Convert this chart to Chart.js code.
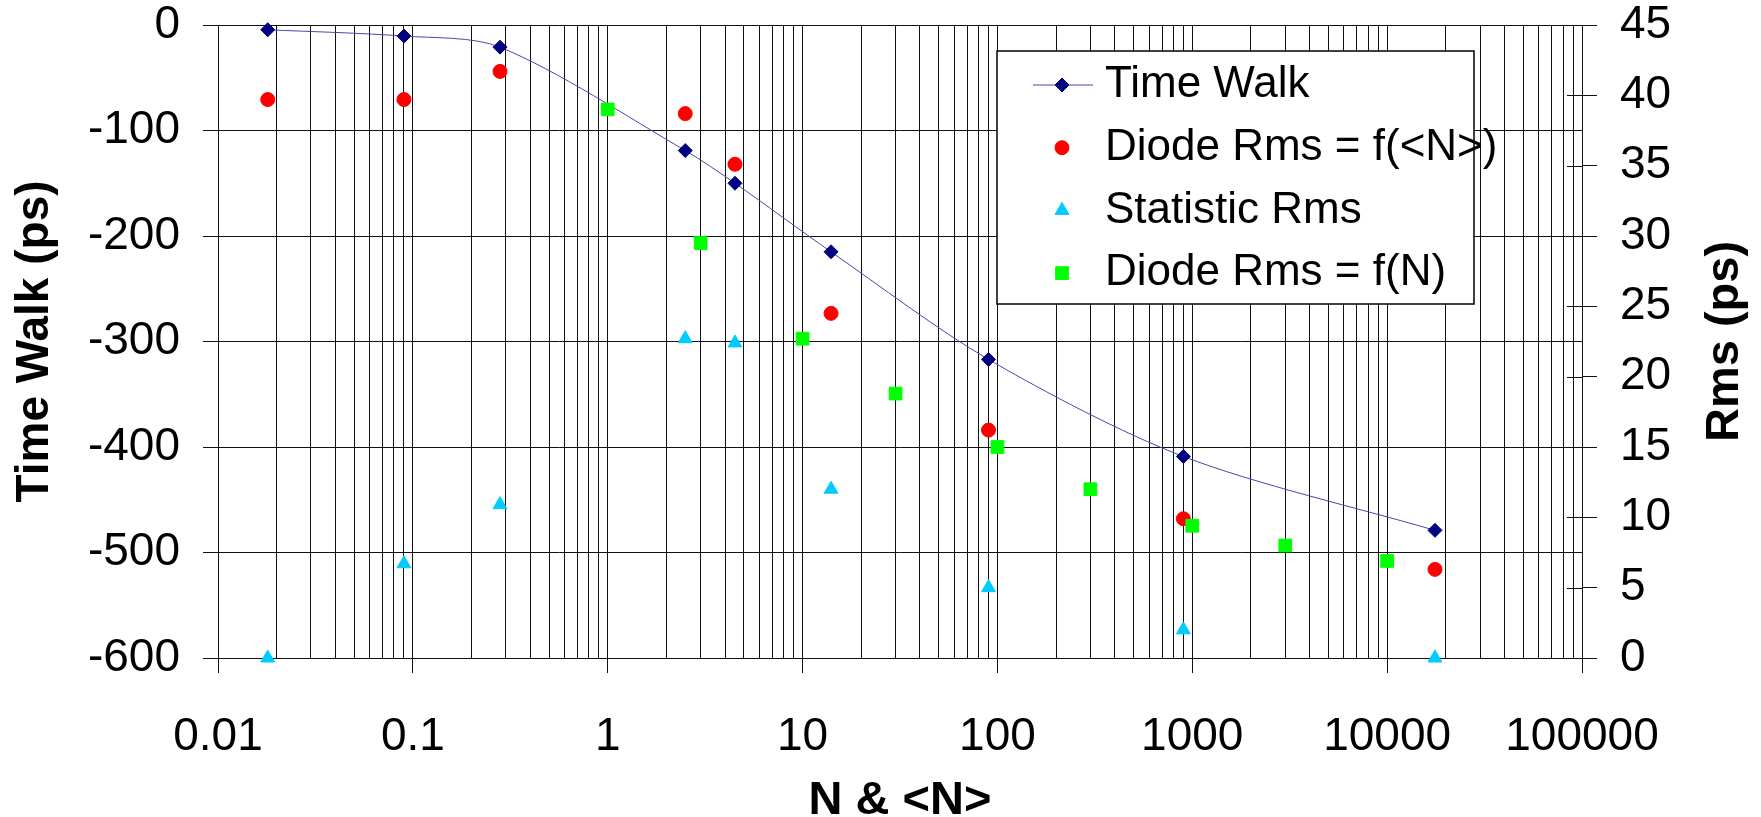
<!DOCTYPE html>
<html>
<head>
<meta charset="utf-8">
<script src="https://cdn.jsdelivr.net/npm/chart.js@4.4.1/dist/chart.umd.min.js"></script>
<style>
  html, body { margin: 0; padding: 0; background: #fff; }
  #wrap { width: 1761px; height: 817px; position: relative; }
</style>
</head>
<body>
<div id="wrap"><canvas id="chart"></canvas></div>
<script>
// <N> values (mean number) and the series measured at them
const nMean = [0.018, 0.09, 0.28, 2.5, 4.5, 14, 90, 900, 17600];
const timeWalk = [-4.5, -10.5, -21, -119, -150, -215, -317, -409, -479];
const diodeRmsMean = [39.7, 39.7, 41.7, 38.7, 35.1, 24.5, 16.2, 9.9, 6.3];
const statisticRms = [0, 6.7, 10.9, 22.7, 22.4, 12.0, 5.0, 2.0, 0];

// N values and the diode rms measured at them
const nValues = [1, 3, 10, 30, 100, 300, 1000, 3000, 10000];
const diodeRmsN = [39.0, 29.5, 22.7, 18.8, 15.0, 12.0, 9.4, 8.0, 6.9];

// axis ticks
const decades = [0.01, 0.1, 1, 10, 100, 1000, 10000, 100000];
const minorSteps = [1, 2, 3, 4, 5, 6, 7, 8, 9];

const FONT = '"Liberation Sans", Arial, sans-serif';
const GRID = '#111';

const pts = (xs, ys) => xs.map((x, i) => ({ x: x, y: ys[i] }));

// keep the y scales from pushing the plot area down
const fixY = w => scale => {
  scale.width = w;
  scale.paddingTop = 0;
  scale.paddingBottom = 0;
};

const boxLegend = {
  id: 'boxLegend',
  afterDraw(chart) {
    const ctx = chart.ctx;
    const area = chart.chartArea;
    ctx.save();

    // right axis ticks cross the axis line
    const r = chart.scales.y2;
    ctx.strokeStyle = GRID;
    ctx.lineWidth = 1;
    r.ticks.forEach(t => {
      const py = Math.round(r.getPixelForValue(t.value)) + 0.5;
      ctx.beginPath();
      ctx.moveTo(r.left - 15, py);
      ctx.lineTo(r.left, py);
      ctx.stroke();
    });

    // right axis title, reads bottom to top
    ctx.save();
    ctx.translate(chart.width - 36, (area.top + area.bottom) / 2);
    ctx.rotate(-Math.PI / 2);
    ctx.font = 'bold 47px ' + FONT;
    ctx.fillStyle = '#000';
    ctx.textAlign = 'center';
    ctx.textBaseline = 'middle';
    ctx.fillText('Rms (ps)', 0, 0);
    ctx.restore();

    // legend box
    const bx = 997, by = 51, bw = 477, bh = 253;
    ctx.fillStyle = '#fff';
    ctx.fillRect(bx, by, bw, bh);
    ctx.strokeStyle = '#000';
    ctx.lineWidth = 1.5;
    ctx.strokeRect(bx, by, bw, bh);

    chart.data.datasets.forEach((ds, i) => {
      const y = 85 + i * 62.7;
      if (ds.showLine) {
        ctx.strokeStyle = ds.borderColor;
        ctx.lineWidth = ds.borderWidth;
        ctx.beginPath();
        ctx.moveTo(1033, y);
        ctx.lineTo(1093, y);
        ctx.stroke();
      }
      ctx.fillStyle = ds.pointBackgroundColor;
      ctx.strokeStyle = ds.pointBorderColor;
      ctx.lineWidth = ds.pointBorderWidth;
      Chart.helpers.drawPoint(ctx, {
        pointStyle: ds.pointStyle,
        radius: ds.pointRadius,
        borderWidth: ds.pointBorderWidth,
        rotation: 0
      }, 1062, y);
      ctx.fillStyle = '#000';
      ctx.font = '44px ' + FONT;
      ctx.textAlign = 'left';
      ctx.textBaseline = 'middle';
      ctx.fillText(ds.label, 1105, y);
    });
    ctx.restore();
  }
};

new Chart(document.getElementById('chart'), {
  type: 'scatter',
  data: {
    datasets: [
      {
        label: 'Time Walk',
        data: pts(nMean, timeWalk),
        yAxisID: 'y',
        showLine: true,
        tension: 0.3,
        borderColor: '#4848a8',
        borderWidth: 1,
        pointStyle: 'rectRot',
        pointRadius: 7,
        pointBackgroundColor: '#000080',
        pointBorderColor: '#000080',
        pointBorderWidth: 1,
        order: 4,
        clip: false
      },
      {
        label: 'Diode Rms = f(<N>)',
        data: pts(nMean, diodeRmsMean),
        yAxisID: 'y2',
        pointStyle: 'circle',
        pointRadius: 7,
        pointBackgroundColor: '#ff0000',
        pointBorderColor: '#ff0000',
        pointBorderWidth: 1,
        order: 3,
        clip: false
      },
      {
        label: 'Statistic Rms',
        data: pts(nMean, statisticRms),
        yAxisID: 'y2',
        pointStyle: 'triangle',
        pointRadius: 8,
        pointBackgroundColor: '#00ccff',
        pointBorderColor: '#00ccff',
        pointBorderWidth: 1,
        order: 2,
        clip: false
      },
      {
        label: 'Diode Rms = f(N)',
        data: pts(nValues, diodeRmsN),
        yAxisID: 'y2',
        pointStyle: 'rect',
        pointRadius: 9,
        pointBackgroundColor: '#00ff00',
        pointBorderColor: '#00ff00',
        pointBorderWidth: 1,
        order: 1,
        clip: false
      }
    ]
  },
  options: {
    responsive: true,
    maintainAspectRatio: false,
    animation: false,
    devicePixelRatio: 1,
    layout: { padding: { top: 25, left: 0, right: 0, bottom: 0 } },
    plugins: {
      legend: { display: false },
      tooltip: { enabled: false }
    },
    scales: {
      x: {
        type: 'logarithmic',
        min: 0.01,
        max: 100000,
        afterBuildTicks: scale => {
          const vals = [];
          decades.forEach((d, i) => {
            if (i === decades.length - 1) { vals.push(d); return; }
            minorSteps.forEach(m => vals.push(d * m));
          });
          scale.ticks = vals.map(v => ({ value: v, major: decades.includes(v) }));
        },
        afterFit: scale => { scale.height = 159; },
        ticks: {
          autoSkip: false,
          maxRotation: 0,
          padding: 41,
          color: '#000',
          font: { family: FONT, size: 46, lineHeight: 1 },
          callback: v => decades.includes(v) ? String(v) : ''
        },
        grid: {
          color: GRID,
          lineWidth: 1,
          tickLength: 15,
          tickColor: c => (c.tick && decades.includes(c.tick.value)) ? GRID : 'rgba(0,0,0,0)'
        },
        border: { display: true, color: GRID, width: 1 },
        title: {
          display: true,
          text: 'N & <N>',
          color: '#000',
          font: { family: FONT, size: 47, weight: 'bold', lineHeight: 1 },
          padding: { top: 0, bottom: -8 }
        }
      },
      y: {
        position: 'left',
        min: -600,
        max: 0,
        afterFit: fixY(218),
        ticks: {
          stepSize: 100,
          padding: 23,
          color: '#000',
          font: { family: FONT, size: 46, lineHeight: 1 }
        },
        grid: { color: GRID, lineWidth: 1, tickLength: 15 },
        border: { display: true, color: GRID, width: 1 },
        title: {
          display: true,
          text: 'Time Walk (ps)',
          color: '#000',
          font: { family: FONT, size: 46, weight: 'bold', lineHeight: 1 },
          padding: { top: 12, bottom: 0 }
        }
      },
      y2: {
        position: 'right',
        min: 0,
        max: 45,
        afterFit: fixY(179),
        ticks: {
          stepSize: 5,
          padding: 23,
          color: '#000',
          font: { family: FONT, size: 46, lineHeight: 1 }
        },
        grid: { drawOnChartArea: false, color: GRID, lineWidth: 1, tickLength: 15 },
        border: { display: true, color: GRID, width: 1 }
      }
    }
  },
  plugins: [boxLegend]
});
</script>
</body>
</html>
